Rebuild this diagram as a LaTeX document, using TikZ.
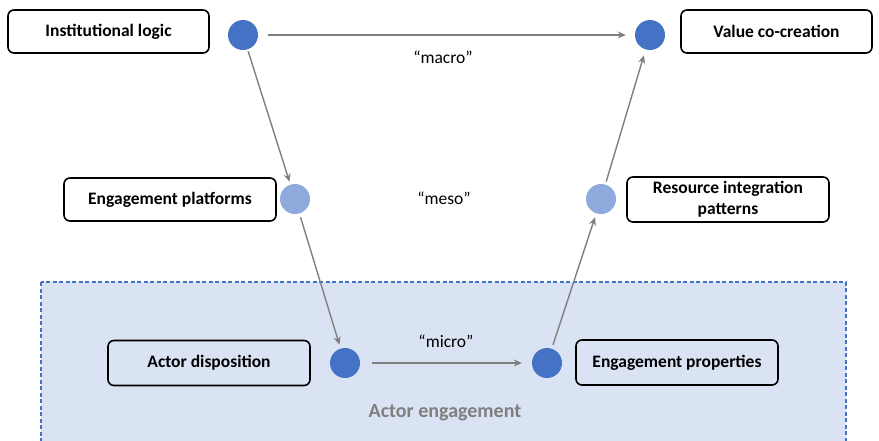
\documentclass[tikz,border=0pt]{standalone}
\usepackage{fontspec}
\setmainfont{Carlito}
\usetikzlibrary{arrows.meta}
\definecolor{dotdark}{HTML}{4472C4}
\definecolor{dotlight}{HTML}{8FAADC}
\definecolor{zonefill}{HTML}{DAE3F3}
\definecolor{linkgray}{HTML}{7F7F7F}

\begin{document}
\begin{tikzpicture}[x=1pt, y=-1pt,
    conceptbox/.style={draw, line width=1.6pt, rounded corners=6pt, minimum height=43pt,
        align=center, inner sep=2pt, font=\fontsize{17.5}{21}\selectfont\bfseries},
    dot/.style={circle, minimum size=30pt, inner sep=0pt},
    link/.style={draw=linkgray, line width=1.4pt, -{Stealth[length=8pt, width=7pt]}},
    levellabel/.style={font=\fontsize{17.5}{21}\selectfont}]
    \useasboundingbox (0,0) rectangle (879,440);
    % Actor engagement zone
    \draw[fill=zonefill, draw=dotdark, line width=1.3pt, dash pattern=on 4pt off 2.5pt]
        (41,282) rectangle (846,450);
    \node[font=\fontsize{20}{24}\selectfont\bfseries, text=linkgray] (zone) at (445,413) {Actor engagement};
    % Concept boxes
    \node[conceptbox, minimum width=201pt] (inst) at (108.5,31.5) {Institutional logic};
    \node[conceptbox, minimum width=191pt] (value) at (776.5,31.5) {Value co-creation};
    \node[conceptbox, minimum width=212pt] (platf) at (170,199.5) {Engagement platforms};
    \node[conceptbox, minimum width=202pt, minimum height=45pt] (resint) at (728,199.5) {Resource integration\\patterns};
    \node[conceptbox, minimum width=202pt, minimum height=45pt] (dispo) at (209,363) {Actor disposition};
    \node[conceptbox, minimum width=202pt, minimum height=45pt] (props) at (677,362.5) {Engagement properties};
    % Dots
    \node[dot, fill=dotdark] (macroL) at (243,35) {};
    \node[dot, fill=dotdark] (macroR) at (650,35) {};
    \node[dot, fill=dotlight] (mesoL) at (295,199) {};
    \node[dot, fill=dotlight] (mesoR) at (601,199) {};
    \node[dot, fill=dotdark] (microL) at (345,363) {};
    \node[dot, fill=dotdark] (microR) at (547,363) {};
    % Levels
    \node[levellabel] (macro) at (443,57) {“macro”};
    \node[levellabel] (meso) at (444,198) {“meso”};
    \node[levellabel] (micro) at (446,341) {“micro”};
    % Links
    \draw[link, shorten <=10pt, shorten >=9pt] (macroL) -- (macroR);
    \draw[link, shorten <=2pt, shorten >=3pt] (macroL) -- (mesoL);
    \draw[link, shorten <=4pt, shorten >=4pt] (mesoL) -- (microL);
    \draw[link, shorten <=12pt, shorten >=10pt] (microL) -- (microR);
    \draw[link, shorten <=4pt, shorten >=4pt] (microR) -- (mesoR);
    \draw[link, shorten <=3pt, shorten >=6pt] (mesoR) -- (macroR);
\end{tikzpicture}
\end{document}
